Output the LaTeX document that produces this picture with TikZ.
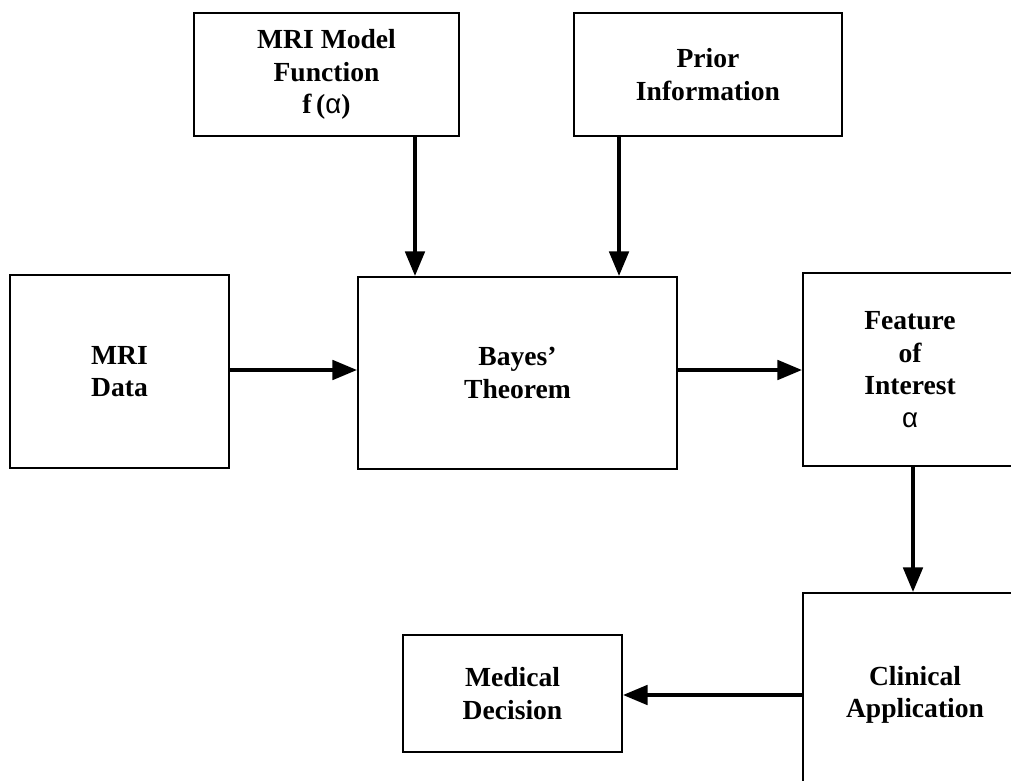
\documentclass[tikz,border=0pt]{standalone}
\usepackage{fontspec}
\setmainfont{Liberation Serif}
\newfontfamily\greekfont{Liberation Sans}
\usepackage{tikz}
\usetikzlibrary{arrows.meta, positioning}
\newcommand{\galpha}{{\greekfont\mdseries α}}
\tikzset{
  blk/.style={draw, line width=1.1pt, align=center, inner sep=0pt,
    font=\fontsize{15.7}{18.5}\selectfont\bfseries,
    execute at begin node={\rule{0pt}{15.5pt}}},
  arr/.style={line width=2.2pt, -{Triangle[length=14pt, width=11pt]}}
}

\begin{document}
\begin{tikzpicture}[x=0.02cm, y=-0.02cm]
\useasboundingbox (0,0) rectangle (1011,781);
\clip (0,0) rectangle (1011,781);
% inputs on top
\node[blk, minimum width=5.30cm, minimum height=2.46cm] (model) at (326.5,74.5) {MRI Model\\ Function\\ f\,(\galpha)};
\node[blk, minimum width=5.36cm, minimum height=2.46cm] (prior) at (708,74.5) {Prior\\ Information};
% middle row
\node[blk, minimum width=4.38cm, minimum height=3.86cm] (data) at (119.5,371.5) {MRI\\ Data};
\node[blk, minimum width=6.38cm, minimum height=3.84cm] (bayes) at (517.5,373) {Bayes’\\ Theorem};
\node[blk, minimum width=4.28cm, minimum height=3.86cm] (feature) at (910,369.5) {Feature\\ of\\ Interest\\ \galpha};
% bottom row
\node[blk, minimum width=4.48cm, minimum height=4.08cm] (clinical) at (915,695) {Clinical\\ Application};
\node[blk, minimum width=4.38cm, minimum height=2.34cm] (decision) at (512.5,693.5) {Medical\\ Decision};
% connectors
\draw[arr] ([xshift=1.77cm]model.south) coordinate (m1) -- (m1 |- bayes.north);
\draw[arr] ([xshift=-1.78cm]prior.south) coordinate (p1) -- (p1 |- bayes.north);
\draw[arr] ([yshift=0.03cm]data.east) coordinate (d1) -- (d1 -| bayes.west);
\draw[arr] ([yshift=0.06cm]bayes.east) coordinate (b1) -- (b1 -| feature.west);
\draw[arr] ([xshift=0.06cm]feature.south) coordinate (f1) -- (f1 |- clinical.north);
\draw[arr] (clinical.west) -- (clinical.west -| decision.east);
\end{tikzpicture}
\end{document}
